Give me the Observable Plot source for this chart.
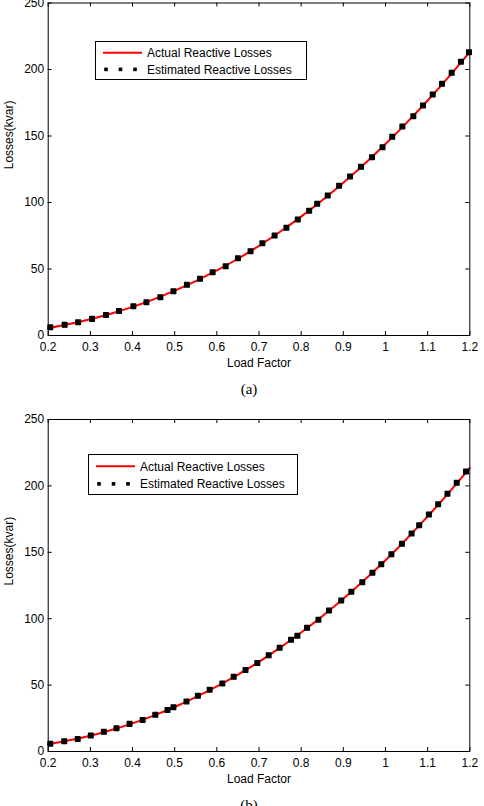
<!DOCTYPE html>
<html>
<head>
<meta charset="utf-8">
<script src="https://cdn.jsdelivr.net/npm/d3@7"></script>
<script src="https://cdn.jsdelivr.net/npm/@observablehq/plot@0.6"></script>
<style>
  html, body { margin: 0; padding: 0; background: #fff; }
  #wrap { position: relative; width: 484px; height: 806px; overflow: hidden; background: #fff; }
  .panel { position: absolute; left: 0; }
  .cap { position: absolute; font-family: "Liberation Serif", "Times New Roman", serif; font-size: 15px; color: #000; transform: translate(-50%, -50%); white-space: nowrap; }
  .legend { position: absolute; background: #fff; border: 1px solid #000; box-sizing: border-box; }
  .legend svg { display: block; }
</style>
</head>
<body>
<div id="wrap"></div>
<script>
// ---------- data ----------
const xTicks = [0.2, 0.3, 0.4, 0.5, 0.6, 0.7, 0.8, 0.9, 1.0, 1.1, 1.2];
const xTickLabels = ["0.2", "0.3", "0.4", "0.5", "0.6", "0.7", "0.8", "0.9", "1", "1.1", "1.2"];
const yTicks = [0, 50, 100, 150, 200, 250];
const xLabel = "Load Factor";
const yLabel = "Losses(kvar)";
const seriesNames = ["Actual Reactive Losses", "Estimated Reactive Losses"];
const panelLabels = ["(a)", "(b)"];

// Actual reactive losses (red line)
const actualX = [0.2, 0.25, 0.3, 0.35, 0.4, 0.45, 0.5, 0.55, 0.6, 0.65, 0.7, 0.75, 0.8, 0.85, 0.9, 0.95, 1.0, 1.05, 1.1, 1.15, 1.2];
const actualA = [5.5, 8.6, 12.2, 16.5, 21.5, 27.2, 33.7, 40.9, 48.9, 57.7, 67.4, 78.0, 89.4, 101.7, 114.9, 129.0, 144.0, 159.9, 176.7, 194.5, 213.2];
const actualB = [5.5, 8.4, 11.9, 16.2, 21.2, 27.0, 33.5, 40.9, 49.0, 57.9, 67.5, 78.2, 89.6, 101.9, 115.0, 129.1, 144.0, 160.0, 177.0, 194.8, 213.5];

// Estimated reactive losses (black markers), panel (a)
const estAX = [0.205, 0.239, 0.271, 0.304, 0.337, 0.368, 0.402, 0.433, 0.466, 0.497, 0.529, 0.560, 0.590, 0.621, 0.650, 0.680, 0.708, 0.737, 0.765, 0.792, 0.819, 0.838, 0.863, 0.890, 0.916, 0.942, 0.968, 0.993, 1.016, 1.040, 1.066, 1.089, 1.112, 1.134, 1.157, 1.179, 1.198];
const estAY = [6.2, 8.0, 10.0, 12.5, 15.5, 18.5, 22.0, 25.0, 28.8, 33.3, 38.1, 42.6, 47.6, 52.1, 58.1, 63.4, 69.4, 75.2, 81.0, 87.2, 93.8, 99.0, 105.3, 112.6, 119.5, 126.8, 134.1, 141.6, 149.4, 157.1, 164.9, 172.9, 181.2, 189.2, 197.5, 205.8, 213.0];

// Estimated reactive losses (black markers), panel (b)
const estBX = [0.205, 0.238, 0.270, 0.301, 0.332, 0.362, 0.393, 0.424, 0.454, 0.483, 0.497, 0.528, 0.555, 0.583, 0.613, 0.640, 0.668, 0.696, 0.723, 0.749, 0.776, 0.791, 0.814, 0.841, 0.866, 0.895, 0.919, 0.945, 0.969, 0.990, 1.014, 1.039, 1.062, 1.080, 1.103, 1.125, 1.147, 1.169, 1.191];
const estBY = [5.8, 7.8, 9.5, 12.0, 14.8, 17.5, 20.8, 23.8, 27.6, 31.3, 33.4, 37.7, 41.9, 46.5, 51.2, 56.2, 61.4, 66.7, 72.5, 78.1, 84.1, 87.1, 93.1, 99.2, 106.2, 113.7, 120.3, 127.5, 134.6, 141.0, 148.6, 156.4, 164.2, 170.4, 178.5, 186.2, 194.1, 202.3, 210.8];

// ---------- drawing ----------
const FONT = "'Liberation Sans', Arial, Helvetica, sans-serif";
const FS = 12;
const wrap = document.getElementById("wrap");
const W = 484, ML = 47.7, MR = 14.7, TICK = 4;

function panel({actualY, estX, estY, top, height, marginTop, marginBottom, label, capY, legend}) {
  const actual = actualX.map((x, i) => ({x, y: actualY[i]}));
  const est = estX.map((x, i) => ({x, y: estY[i]}));
  const fh = height - marginTop - marginBottom;
  const fw = W - ML - MR;
  const fmt = d => xTickLabels[xTicks.indexOf(d)];
  const svg = Plot.plot({
    width: W, height,
    marginLeft: ML, marginRight: MR, marginTop, marginBottom,
    x: {domain: [0.2, 1.2]},
    y: {domain: [0, 250]},
    style: {fontFamily: FONT, fontSize: FS + "px", color: "#000", background: "transparent", overflow: "visible"},
    marks: [
      Plot.line(actual, {x: "x", y: "y", stroke: "#ff0000", strokeWidth: 2, curve: "monotone-x"}),
      Plot.dot(est, {x: "x", y: "y", symbol: "square", r: 2.6, fill: "#000", stroke: "#000", strokeWidth: 1.4, strokeLinejoin: "round"}),
      // inward ticks on all four sides
      Plot.tickX(xTicks, {x: d => d, insetTop: fh - TICK, stroke: "#000", strokeWidth: 1}),
      Plot.tickX(xTicks, {x: d => d, insetBottom: fh - TICK, stroke: "#000", strokeWidth: 1}),
      Plot.tickY(yTicks, {y: d => d, insetRight: fw - TICK, stroke: "#000", strokeWidth: 1}),
      Plot.tickY(yTicks, {y: d => d, insetLeft: fw - TICK, stroke: "#000", strokeWidth: 1}),
      Plot.frame({stroke: "#000", strokeWidth: 1}),
      Plot.axisX(xTicks, {tickSize: 0, tickPadding: 6.5, tickFormat: fmt, label: null, fontSize: FS}),
      Plot.axisY(yTicks, {tickSize: 0, tickPadding: 4, label: null, fontSize: FS}),
      Plot.text([xLabel], {frameAnchor: "bottom", dy: 28, text: d => d, fontSize: FS, lineAnchor: "middle"}),
      Plot.text([yLabel], {frameAnchor: "left", dx: -39, rotate: -90, text: d => d, fontSize: FS, lineAnchor: "middle"})
    ]
  });
  svg.classList.add("panel");
  svg.style.top = top + "px";
  wrap.appendChild(svg);

  const cap = document.createElement("div");
  cap.className = "cap";
  cap.textContent = label;
  cap.style.left = "249px";
  cap.style.top = capY + "px";
  wrap.appendChild(cap);

  // legend box
  const lg = document.createElement("div");
  lg.className = "legend";
  lg.style.left = legend.x + "px";
  lg.style.top = legend.y + "px";
  lg.style.width = legend.w + "px";
  lg.style.height = legend.h + "px";
  const lw = legend.w - 2, lh = legend.h - 2;
  const r1 = lh * 0.29, r2 = lh * 0.74;
  const ns = "http://www.w3.org/2000/svg";
  const s = document.createElementNS(ns, "svg");
  s.setAttribute("width", lw); s.setAttribute("height", lh);
  const line = document.createElementNS(ns, "line");
  line.setAttribute("x1", 7); line.setAttribute("x2", 46);
  line.setAttribute("y1", r1); line.setAttribute("y2", r1);
  line.setAttribute("stroke", "#ff0000"); line.setAttribute("stroke-width", 2);
  s.appendChild(line);
  [10, 24.5, 39].forEach(cx => {
    const r = document.createElementNS(ns, "rect");
    r.setAttribute("x", cx - 1.8); r.setAttribute("y", r2 - 1.8);
    r.setAttribute("width", 3.6); r.setAttribute("height", 3.6);
    r.setAttribute("fill", "#000");
    s.appendChild(r);
  });
  [[seriesNames[0], r1], [seriesNames[1], r2]].forEach(([t, yy]) => {
    const tx = document.createElementNS(ns, "text");
    tx.setAttribute("x", 51); tx.setAttribute("y", yy);
    tx.setAttribute("dy", "0.35em");
    tx.setAttribute("font-family", FONT);
    tx.setAttribute("font-size", 12);
    tx.textContent = t;
    s.appendChild(tx);
  });
  lg.appendChild(s);
  wrap.appendChild(lg);
}

panel({actualY: actualA, estX: estAX, estY: estAY, top: 0, height: 400, marginTop: 2.5, marginBottom: 65,
       label: panelLabels[0], capY: 389, legend: {x: 94.5, y: 41, w: 212, h: 39}});
panel({actualY: actualB, estX: estBX, estY: estBY, top: 400, height: 406, marginTop: 19, marginBottom: 55,
       label: panelLabels[1], capY: 805, legend: {x: 87.5, y: 453.5, w: 210, h: 41}});
</script>
</body>
</html>
